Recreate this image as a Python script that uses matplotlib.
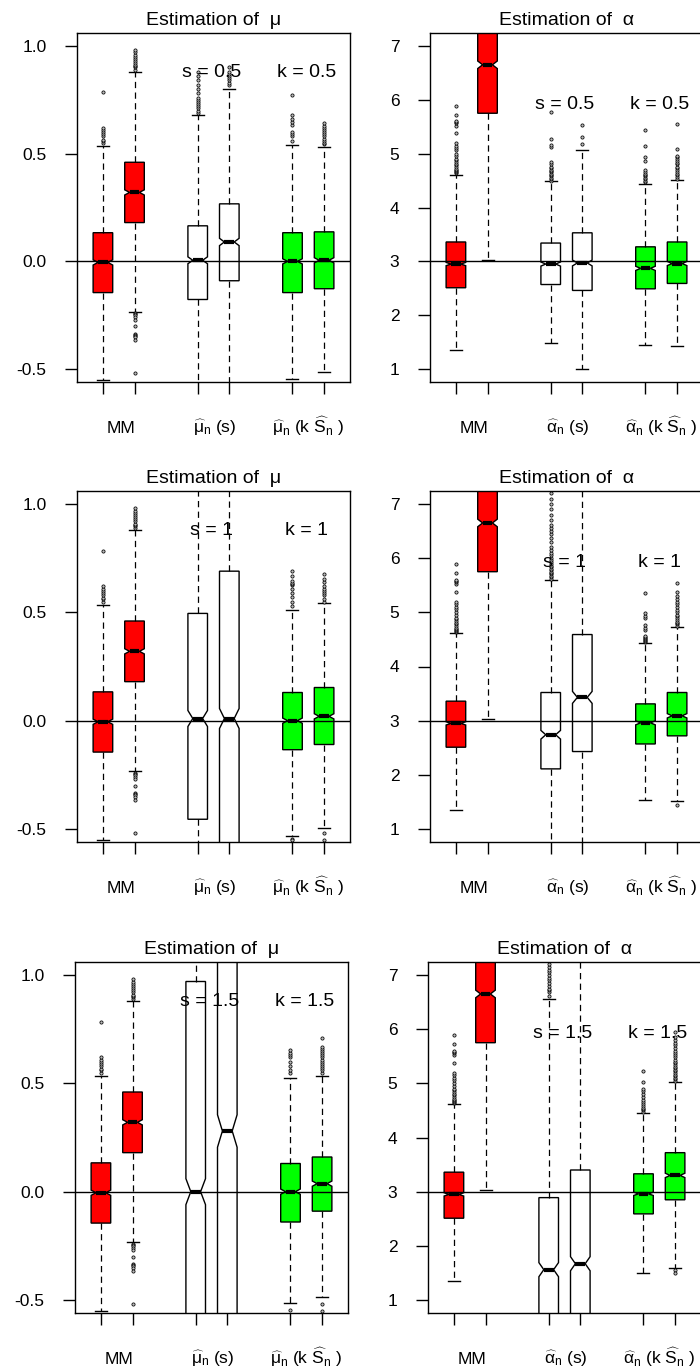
import numpy as np
import matplotlib
matplotlib.use("Agg")
import matplotlib.pyplot as plt

plt.rcParams['font.family'] = ['Liberation Sans', 'DejaVu Sans']
plt.rcParams['mathtext.fontset'] = 'custom'
plt.rcParams['mathtext.rm'] = 'Liberation Sans'
plt.rcParams['mathtext.it'] = 'Liberation Sans'
plt.rcParams['mathtext.bf'] = 'Liberation Sans:bold'
plt.rcParams['mathtext.sf'] = 'Liberation Sans'

POSITIONS = [1, 2, 4, 5, 7, 8]
BOX_COLORS = ['#ff0000', '#ff0000', 'white', 'white', '#00ff00', '#00ff00']
S_VALUES = ['0.5', '1', '1.5']

# ---- method of moments (same in every row) ----
mm_mu_low = [-0.553, -0.234]
mm_mu_q1 = [-0.145, 0.18]
mm_mu_med = [-0.005, 0.32]
mm_mu_q3 = [0.133, 0.46]
mm_mu_high = [0.535, 0.878]
mm_mu_notch = [0.012, 0.012]
mm_mu_fliers = [
    [0.55, 0.56, 0.565, 0.58, 0.59, 0.60, 0.61, 0.62, 0.785],
    [0.89, 0.90, 0.905, 0.91, 0.92, 0.93, 0.94, 0.95, 0.96, 0.97, 0.98,
     -0.24, -0.245, -0.25, -0.26, -0.27, -0.30, -0.335, -0.34, -0.345,
     -0.35, -0.365, -0.52],
]

mm_al_low = [1.35, 3.03]
mm_al_q1 = [2.51, 5.75]
mm_al_med = [2.95, 6.65]
mm_al_q3 = [3.36, 7.6]
mm_al_high = [4.61, 9.0]
mm_al_notch = [0.03, 0.07]
mm_al_fliers = [
    [4.64, 4.66, 4.68, 4.70, 4.72, 4.75, 4.78, 4.80, 4.84, 4.88, 4.90, 4.95,
     5.00, 5.06, 5.10, 5.15, 5.20, 5.38, 5.52, 5.56, 5.58, 5.60, 5.72, 5.89],
    [],
]

# ---- s = 0.5, k = 0.5 ----
mu_a_low = [-0.70, -0.70, -0.545, -0.515]
mu_a_q1 = [-0.177, -0.09, -0.145, -0.127]
mu_a_med = [0.005, 0.09, 0.0, 0.005]
mu_a_q3 = [0.165, 0.267, 0.133, 0.137]
mu_a_high = [0.68, 0.80, 0.54, 0.53]
mu_a_notch = [0.016, 0.017, 0.012, 0.012]
mu_a_fliers = [
    [0.69, 0.70, 0.71, 0.72, 0.73, 0.74, 0.75, 0.76, 0.78, 0.80, 0.82, 0.84, 0.86, 0.88],
    [0.82, 0.83, 0.84, 0.85, 0.86, 0.87, 0.88, 0.90],
    [0.56, 0.58, 0.59, 0.60, 0.635, 0.645, 0.66, 0.68, 0.77],
    [0.545, 0.55, 0.56, 0.57, 0.58, 0.59, 0.60, 0.61, 0.62, 0.63, 0.64],
]
al_a_low = [1.48, 1.0, 1.45, 1.43]
al_a_q1 = [2.57, 2.46, 2.49, 2.59]
al_a_med = [2.95, 2.97, 2.87, 2.96]
al_a_q3 = [3.34, 3.53, 3.27, 3.36]
al_a_high = [4.49, 5.07, 4.44, 4.51]
al_a_notch = [0.038, 0.054, 0.039, 0.038]
al_a_fliers = [
    [4.50, 4.52, 4.55, 4.58, 4.60, 4.62, 4.65, 4.68, 4.70, 4.73, 4.76, 4.80,
     4.84, 5.12, 5.16, 5.28, 5.78],
    [5.18, 5.31, 5.53],
    [4.47, 4.50, 4.52, 4.55, 4.58, 4.60, 4.63, 4.66, 4.70, 4.87, 4.93, 5.15, 5.44],
    [4.53, 4.56, 4.60, 4.63, 4.66, 4.70, 4.73, 4.76, 4.80, 4.83, 4.86, 4.90,
     4.93, 4.96, 5.09, 5.55],
]

# ---- s = 1, k = 1 ----
mu_b_low = [-1.5, -2.0, -0.53, -0.495]
mu_b_q1 = [-0.455, -1.0, -0.134, -0.11]
mu_b_med = [0.01, 0.01, 0.0, 0.02]
mu_b_q3 = [0.495, 0.69, 0.13, 0.153]
mu_b_high = [2.0, 2.5, 0.51, 0.545]
mu_b_notch = [0.037, 0.046, 0.012, 0.012]
mu_b_fliers = [
    [],
    [],
    [0.53, 0.55, 0.57, 0.59, 0.61, 0.625, 0.63, 0.635, 0.645, 0.67, 0.69, -0.545, -0.55],
    [0.55, 0.56, 0.58, 0.59, 0.60, 0.61, 0.62, 0.64, 0.655, 0.675, -0.52, -0.55],
]
al_b_low = [0.5, -1.0, 1.53, 1.52]
al_b_q1 = [2.11, 2.43, 2.57, 2.72]
al_b_med = [2.74, 3.43, 2.96, 3.09]
al_b_q3 = [3.52, 4.59, 3.31, 3.52]
al_b_high = [5.60, 9.0, 4.43, 4.73]
al_b_notch = [0.08, 0.11, 0.037, 0.04]
al_b_fliers = [
    [5.62, 5.65, 5.68, 5.70, 5.72, 5.75, 5.78, 5.80, 5.83, 5.86, 5.90, 5.93,
     5.96, 6.00, 6.05, 6.10, 6.15, 6.20, 6.30, 6.38, 6.45, 6.50, 6.55, 6.62,
     6.70, 6.80, 6.90, 7.00, 7.10, 7.20, 7.30, 7.50],
    [],
    [4.45, 4.47, 4.49, 4.51, 4.53, 4.55, 4.57, 4.67, 4.72, 4.76, 4.90, 4.94, 4.98, 5.35],
    [4.75, 4.78, 4.80, 4.83, 4.86, 4.90, 4.93, 4.96, 5.00, 5.05, 5.10, 5.15,
     5.20, 5.25, 5.30, 5.37, 5.54, 1.45],
]

# ---- s = 1.5, k = 1.5 ----
mu_c_low = [-2.0, -3.0, -0.515, -0.485]
mu_c_q1 = [-0.72, -1.0, -0.14, -0.09]
mu_c_med = [0.0, 0.28, 0.0, 0.037]
mu_c_q3 = [0.97, 1.5, 0.13, 0.16]
mu_c_high = [2.5, 3.0, 0.525, 0.535]
mu_c_notch = [0.06, 0.075, 0.012, 0.012]
mu_c_fliers = [
    [],
    [],
    [0.55, 0.56, 0.58, 0.60, 0.62, 0.63, 0.64, 0.655, -0.545],
    [0.55, 0.56, 0.57, 0.58, 0.59, 0.60, 0.61, 0.62, 0.63, 0.64, 0.65, 0.66,
     0.67, 0.71, -0.52, -0.55],
]
al_c_low = [-1.0, -1.0, 1.50, 1.60]
al_c_q1 = [0.30, 0.30, 2.59, 2.85]
al_c_med = [1.56, 1.67, 2.96, 3.30]
al_c_q3 = [2.89, 3.40, 3.33, 3.72]
al_c_high = [6.56, 9.0, 4.46, 5.03]
al_c_notch = [0.13, 0.13, 0.03, 0.04]
al_c_fliers = [
    [6.62, 6.68, 6.72, 6.75, 6.80, 6.85, 6.90, 6.95, 7.00, 7.05, 7.10, 7.15, 7.20, 7.30],
    [],
    [4.48, 4.50, 4.52, 4.55, 4.58, 4.62, 4.66, 4.70, 4.75, 4.80, 4.85, 4.89, 5.02, 5.22],
    [5.05, 5.08, 5.10, 5.13, 5.16, 5.19, 5.22, 5.25, 5.28, 5.31, 5.34, 5.37,
     5.40, 5.44, 5.48, 5.52, 5.56, 5.60, 5.65, 5.70, 5.75, 5.80, 5.86, 5.94,
     1.55, 1.50],
]

MU_ROWS = [
    (mu_a_low, mu_a_q1, mu_a_med, mu_a_q3, mu_a_high, mu_a_notch, mu_a_fliers),
    (mu_b_low, mu_b_q1, mu_b_med, mu_b_q3, mu_b_high, mu_b_notch, mu_b_fliers),
    (mu_c_low, mu_c_q1, mu_c_med, mu_c_q3, mu_c_high, mu_c_notch, mu_c_fliers),
]
AL_ROWS = [
    (al_a_low, al_a_q1, al_a_med, al_a_q3, al_a_high, al_a_notch, al_a_fliers),
    (al_b_low, al_b_q1, al_b_med, al_b_q3, al_b_high, al_b_notch, al_b_fliers),
    (al_c_low, al_c_q1, al_c_med, al_c_q3, al_c_high, al_c_notch, al_c_fliers),
]
MM_MU = (mm_mu_low, mm_mu_q1, mm_mu_med, mm_mu_q3, mm_mu_high, mm_mu_notch, mm_mu_fliers)
MM_AL = (mm_al_low, mm_al_q1, mm_al_med, mm_al_q3, mm_al_high, mm_al_notch, mm_al_fliers)


def build_stats(mm, rest):
    stats = []
    for part in (mm, rest):
        low, q1, med, q3, high, notch, fliers = part
        for i in range(len(med)):
            stats.append(dict(med=med[i], q1=q1[i], q3=q3[i],
                              whislo=low[i], whishi=high[i],
                              cilo=med[i] - notch[i], cihi=med[i] + notch[i],
                              fliers=np.array(fliers[i], dtype=float)))
    return stats


def draw_panel(ax, stats, truth, ylim, yticks, yticklabels, title, s_txt, txt_y, labels):
    res = ax.bxp(stats, positions=POSITIONS, widths=0.62, capwidths=0.38,
                 shownotches=True, patch_artist=True, manage_ticks=False,
                 boxprops=dict(edgecolor='black', linewidth=1.0),
                 whiskerprops=dict(color='black', linestyle=(0, (5, 3.5)), linewidth=0.9),
                 capprops=dict(color='black', linewidth=1.0),
                 medianprops=dict(color='black', linewidth=3.0, solid_capstyle='butt'),
                 flierprops=dict(marker='o', markersize=2.3, markerfacecolor='#bbbbbb',
                                 markeredgecolor='black', markeredgewidth=0.55,
                                 linestyle='none'))
    for patch, col in zip(res['boxes'], BOX_COLORS):
        patch.set_facecolor(col)
    ax.axhline(truth, color='black', linewidth=1.0, zorder=4)
    ax.set_xlim(0.18, 8.82)
    ax.set_ylim(*ylim)
    ax.set_xticks(POSITIONS)
    ax.set_xticklabels([])
    ax.set_yticks(yticks)
    ax.set_yticklabels(yticklabels)
    ax.tick_params(axis='both', direction='out', length=8.5, width=1.0,
                   labelsize=12.5, color='black')
    ax.tick_params(axis='y', pad=13.5)
    for sp in ax.spines.values():
        sp.set_linewidth(1.0)
        sp.set_color('black')
    ax.set_title(title, fontsize=14, pad=5.5)
    ax.text(4.45, txt_y, 's = ' + s_txt, ha='center', va='baseline', fontsize=14)
    ax.text(7.45, txt_y, 'k = ' + s_txt, ha='center', va='baseline', fontsize=14)
    for x, lab in zip([1.58, 4.55, 7.48], labels):
        ax.annotate(lab, xy=(x, 0), xycoords=('data', 'axes fraction'),
                    xytext=(0, -37), textcoords='offset points',
                    ha='center', va='baseline', fontsize=12.5,
                    annotation_clip=False)


fig = plt.figure(figsize=(7.0, 13.71), dpi=100)
W, H = 700.0, 1371.0
row_boxes = [(33, 382, 77, 430), (491, 842, 77, 430), (962, 1313, 75, 428)]

mu_labels = ['MM', r'$\widehat{\mu}_n$ (s)', r'$\widehat{\mu}_n$ (k $\widehat{S}_n$ )']
al_labels = ['MM', r'$\widehat{\alpha}_n$ (s)', r'$\widehat{\alpha}_n$ (k $\widehat{S}_n$ )']

for r, (top, bot, xl, xr) in enumerate(row_boxes):
    h = (bot - top) / H
    y0 = 1 - bot / H
    ax_mu = fig.add_axes([xl / W, y0, 273 / W, h])
    ax_al = fig.add_axes([xr / W, y0, 273 / W, h])
    draw_panel(ax_mu, build_stats(MM_MU, MU_ROWS[r]), 0.0, (-0.56, 1.06),
               [-0.5, 0.0, 0.5, 1.0], ['-0.5', '0.0', '0.5', '1.0'],
               'Estimation of  μ', S_VALUES[r], 0.858, mu_labels)
    draw_panel(ax_al, build_stats(MM_AL, AL_ROWS[r]), 3.0, (0.76, 7.24),
               [1, 2, 3, 4, 5, 6, 7], ['1', '2', '3', '4', '5', '6', '7'],
               'Estimation of  α', S_VALUES[r], 5.83, al_labels)

fig.savefig('out.png', dpi=100)
